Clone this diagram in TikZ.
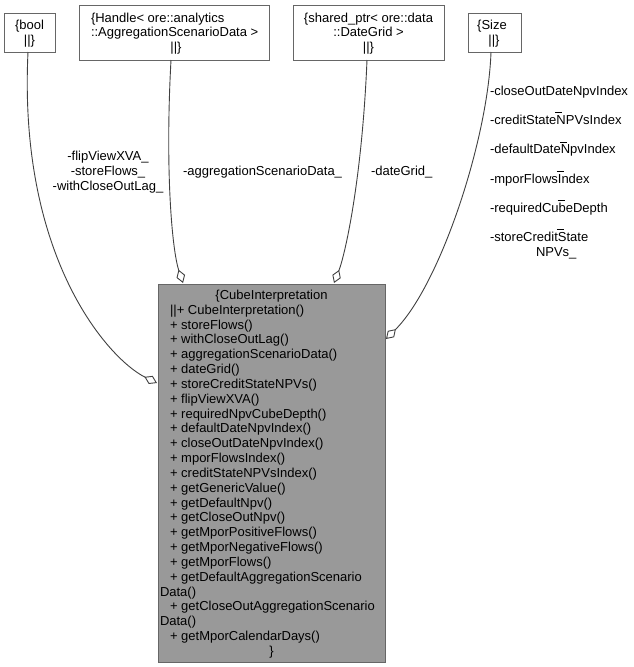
\documentclass[tikz,border=0pt]{standalone}
\usepackage{fontspec}
\setmainfont{Liberation Sans}
\usetikzlibrary{arrows.meta}
\definecolor{edgec}{HTML}{404040}
\definecolor{boxborder}{HTML}{666666}
\definecolor{mainfill}{HTML}{999999}
\newcommand{\ovbar}{\rlap{\hspace{-1pt}\rule[11.5pt]{7pt}{0.8pt}}}
\begin{document}
\begin{tikzpicture}[x=1pt,y=-1pt,
  every node/.style={font=\fontsize{13}{14.8}\selectfont, inner sep=0pt, outer sep=0pt},
  typebox/.style={draw=boxborder, fill=white, line width=1pt, rectangle},
  mainbox/.style={draw=boxborder, fill=mainfill, line width=1pt, rectangle},
  lbl/.style={anchor=base west},
  clbl/.style={anchor=base},
  assoc/.style={draw=edgec, line width=0.9pt, -{Diamond[open, length=14pt, width=9pt, line width=0.9pt]}},
]
\useasboundingbox (0,0) rectangle (633,667);

% ---- type boxes ----
\node[typebox, minimum width=51, minimum height=39] (boolbox) at (29.5,32.5) {};
\node[clbl] (boolt1) at (29.5,29.6) {\{bool};
\node[clbl] (boolt2) at (29.5,44.4) {||\}};

\node[typebox, minimum width=190, minimum height=55] (handlebox) at (174,32.5) {};
\node[lbl] (handlet1) at (91,22) {\{Handle< ore::analytics};
\node[lbl] (handlet2) at (91,36.8) {::AggregationScenarioData >};
\node[clbl] (handlet3) at (176,51.6) {||\}};

\node[typebox, minimum width=151, minimum height=55] (sharedbox) at (368.5,32.5) {};
\node[clbl] (sharedt1) at (368.5,22) {\{shared\_ptr< ore::data};
\node[clbl] (sharedt2) at (368.5,36.8) {::DateGrid >};
\node[clbl] (sharedt3) at (368.5,51.6) {||\}};

\node[typebox, minimum width=53, minimum height=39] (sizebox) at (494.5,32.5) {};
\node[clbl] (sizet1) at (492,29.6) {\{Size};
\node[clbl] (sizet2) at (494,44.4) {||\}};

% ---- main class box ----
\node[mainbox, minimum width=227, minimum height=378] (main) at (271.5,473) {};
\node[clbl] (m0) at (271.5,299.5) {\{CubeInterpretation};
\foreach \txt [count=\i] in {
  {||+ CubeInterpretation()},
  {+ storeFlows()},
  {+ withCloseOutLag()},
  {+ aggregationScenarioData()},
  {+ dateGrid()},
  {+ storeCreditStateNPVs()},
  {+ flipViewXVA()},
  {+ requiredNpvCubeDepth()},
  {+ defaultDateNpvIndex()},
  {+ closeOutDateNpvIndex()},
  {+ mporFlowsIndex()},
  {+ creditStateNPVsIndex()},
  {+ getGenericValue()},
  {+ getDefaultNpv()},
  {+ getCloseOutNpv()},
  {+ getMporPositiveFlows()},
  {+ getMporNegativeFlows()},
  {+ getMporFlows()},
  {+ getDefaultAggregationScenario}}
  \node[lbl] (m\i) at (170,{299.5+14.83*\i}) {\txt};
\node[lbl] (m20) at (160,{299.5+14.83*20}) {Data()};
\node[lbl] (m21) at (170,{299.5+14.83*21}) {+ getCloseOutAggregationScenario};
\node[lbl] (m22) at (160,{299.5+14.83*22}) {Data()};
\node[lbl] (m23) at (170,{299.5+14.83*23}) {+ getMporCalendarDays()};
\node[clbl] (m24) at (271.5,{299.5+14.83*24}) {\}};

% ---- edges ----
\coordinate (boolEnd) at (157,383);
\coordinate (handleEnd) at (183,283);
\coordinate (sharedEnd) at (334,283);
\coordinate (sizeEnd) at (386,339);

\draw[assoc] ([xshift=-1.5]boolbox.south) .. controls (18,260) and (110,360) .. (boolEnd);
\draw[assoc] ([xshift=-3]handlebox.south) .. controls (165,170) and (172,250) .. (handleEnd);
\draw[assoc] ([xshift=-1.5]sharedbox.south) .. controls (362,180) and (345,255) .. (sharedEnd);
\draw[assoc] ([xshift=-3.5]sizebox.south) .. controls (488,140) and (440,285) .. (sizeEnd);

% ---- edge labels ----
\node[clbl] (lb1) at (108,160.5) {-flipViewXVA\_};
\node[clbl] (lb2) at (108,175.3) {-storeFlows\_};
\node[clbl] (lb3) at (108,190.1) {-withCloseOutLag\_};
\node[lbl] (la1) at (183,175.5) {-aggregationScenarioData\_};
\node[lbl] (ld1) at (371,175.5) {-dateGrid\_};

\node[lbl] (ls1) at (490,95.5) {-closeOutDateNpvIndex};
\node[lbl] (ls2) at (490,124.7) {-creditState\ovbar NPVsIndex};
\node[lbl] (ls3) at (490,153.9) {-defaultDate\ovbar Npv\-Index};
\node[lbl] (ls4) at (490,183.1) {-mporFlows\ovbar Index};
\node[lbl] (ls5) at (490,212.3) {-requiredCu\ovbar beDepth};
\node[lbl] (ls6) at (490,241.5) {-storeCredit\ovbar State};
\node[lbl] (ls7) at (536,256.3) {NPVs\_};
\end{tikzpicture}
\end{document}
